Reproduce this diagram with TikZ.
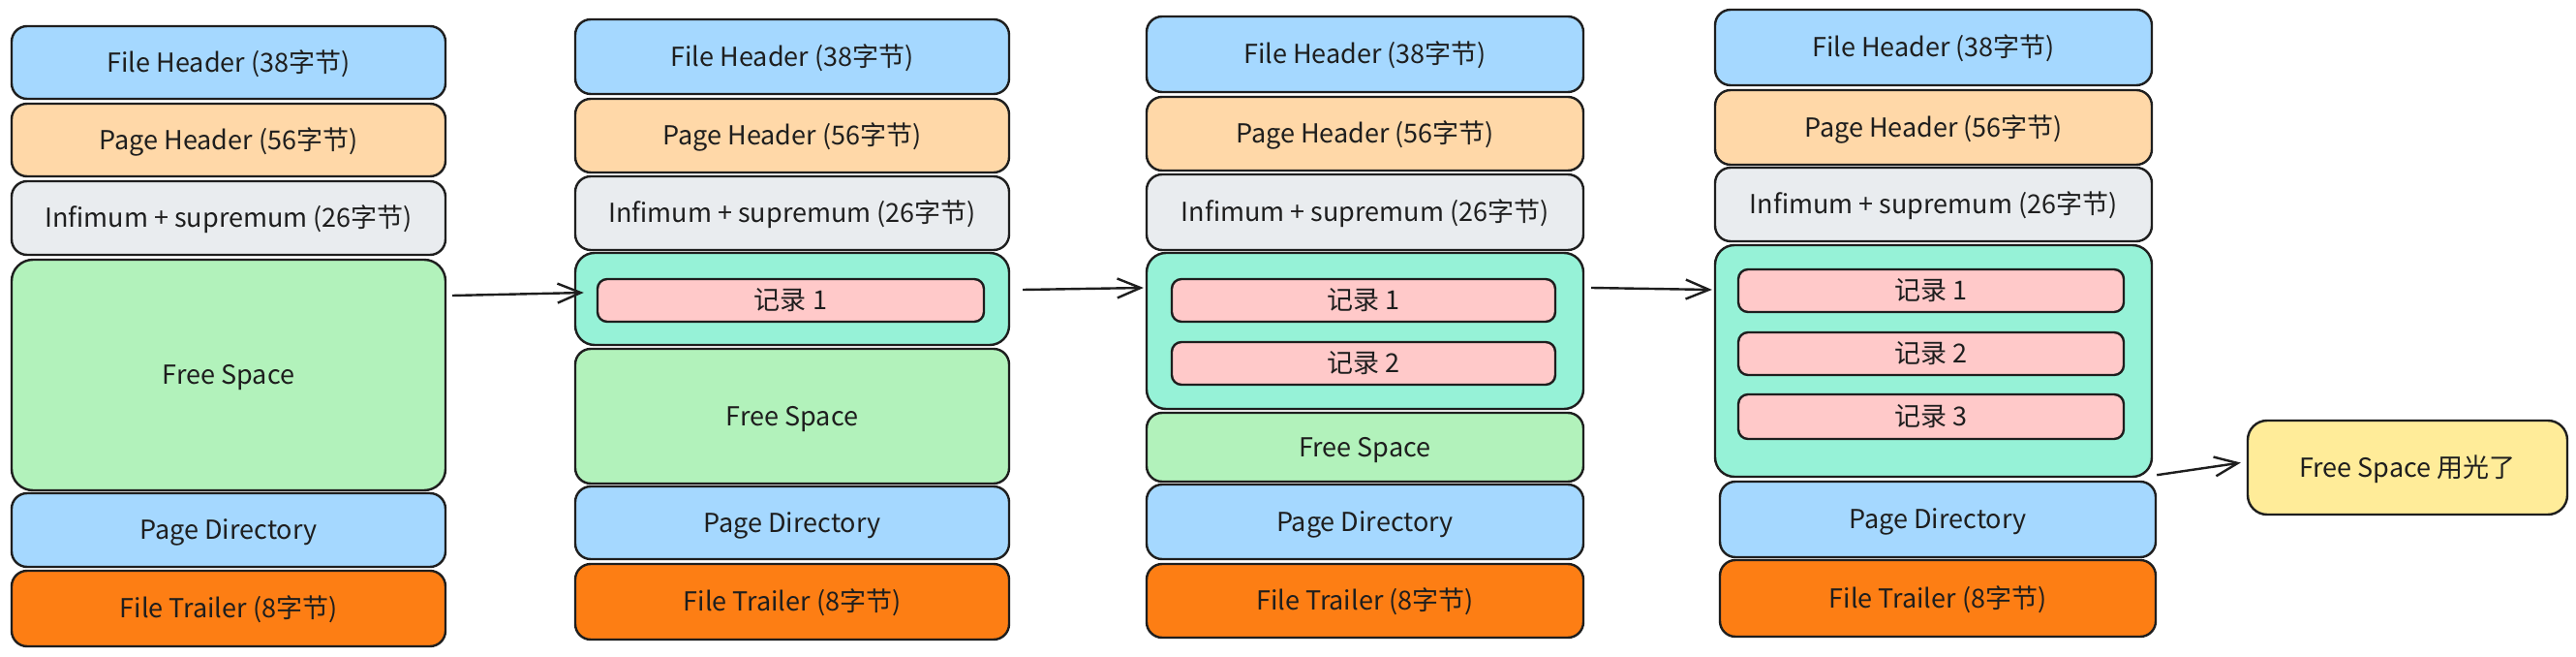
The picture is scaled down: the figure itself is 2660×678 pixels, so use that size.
\documentclass[tikz,border=0pt]{standalone}
\usepackage{fontspec}
\setmainfont{Noto Sans CJK SC}
\usetikzlibrary{calc,arrows.meta}
\definecolor{cfh}{HTML}{A5D8FF}
\definecolor{cph}{HTML}{FFD8A8}
\definecolor{cinf}{HTML}{E9ECEF}
\definecolor{cfs}{HTML}{B2F2BB}
\definecolor{ccont}{HTML}{96F2D7}
\definecolor{crec}{HTML}{FFC9C9}
\definecolor{cft}{HTML}{FD7E14}
\definecolor{cyel}{HTML}{FFEC99}
\definecolor{ink}{HTML}{1E1E1E}
% \bx{style}{name}{x1}{y1}{x2}{y2}{text}
\newcommand\bx[7]{\node[#1,minimum width={(#5-#3)*0.5pt},minimum height={(#6-#4)*0.5pt}] (#2) at ({(#3+#5)/2},{(#4+#6)/2}) {#7};}
\begin{document}
\begin{tikzpicture}[x=0.5pt,y=-0.5pt,
  blk/.style={draw=ink,line width=1.2pt,rounded corners=8pt,inner sep=0pt,text=ink,
    text height=9.8pt,text depth=0pt,font=\fontsize{13.5pt}{16pt}\selectfont},
  fhbox/.style={blk,fill=cfh},
  phbox/.style={blk,fill=cph},
  infbox/.style={blk,fill=cinf},
  fsbox/.style={blk,fill=cfs},
  bigfsbox/.style={blk,fill=cfs,rounded corners=11pt},
  pdbox/.style={blk,fill=cfh},
  ftbox/.style={blk,fill=cft},
  contbox/.style={blk,fill=ccont,rounded corners=10pt},
  recbox/.style={blk,fill=crec,rounded corners=5pt},
  notebox/.style={blk,fill=cyel,rounded corners=10pt},
  arr/.style={draw=ink,line width=1.2pt,-{Straight Barb[length=12pt,width=10pt]}}]
\fill[white] (0,0) rectangle (2660,678);
\useasboundingbox (0,0) rectangle (2660,678);

% column 1
\bx{fhbox}{c1fh}{12}{27}{460}{102}{File Header (38字节)}
\bx{phbox}{c1ph}{12}{107}{460}{182}{Page Header (56字节)}
\bx{infbox}{c1inf}{12}{187}{460}{263}{Infimum + supremum (26字节)}
\bx{bigfsbox}{c1fs}{12}{268}{460}{506}{Free Space}
\bx{pdbox}{c1pd}{12}{509}{460}{585}{Page Directory}
\bx{ftbox}{c1ft}{12}{589}{460}{667}{File Trailer (8字节)}

% column 2
\bx{fhbox}{c2fh}{594}{20}{1042}{97}{File Header (38字节)}
\bx{phbox}{c2ph}{594}{102}{1042}{178}{Page Header (56字节)}
\bx{infbox}{c2inf}{594}{182}{1042}{258}{Infimum + supremum (26字节)}
\bx{contbox}{c2cont}{594}{261}{1042}{356}{}
\bx{recbox}{c2r1}{617}{288}{1016}{332}{记录 1}
\bx{fsbox}{c2fs}{594}{360}{1042}{499}{Free Space}
\bx{pdbox}{c2pd}{594}{502}{1042}{577}{Page Directory}
\bx{ftbox}{c2ft}{594}{582}{1042}{660}{File Trailer (8字节)}

% column 3
\bx{fhbox}{c3fh}{1184}{17}{1635}{95}{File Header (38字节)}
\bx{phbox}{c3ph}{1184}{100}{1635}{176}{Page Header (56字节)}
\bx{infbox}{c3inf}{1184}{180}{1635}{258}{Infimum + supremum (26字节)}
\bx{contbox}{c3cont}{1184}{261}{1635}{422}{}
\bx{recbox}{c3r1}{1210}{288}{1606}{332}{记录 1}
\bx{recbox}{c3r2}{1210}{353}{1606}{397}{记录 2}
\bx{fsbox}{c3fs}{1184}{426}{1635}{497}{Free Space}
\bx{pdbox}{c3pd}{1184}{500}{1635}{577}{Page Directory}
\bx{ftbox}{c3ft}{1184}{582}{1635}{658}{File Trailer (8字节)}

% column 4
\bx{fhbox}{c4fh}{1771}{10}{2222}{88}{File Header (38字节)}
\bx{phbox}{c4ph}{1771}{93}{2222}{170}{Page Header (56字节)}
\bx{infbox}{c4inf}{1771}{173}{2222}{249}{Infimum + supremum (26字节)}
\bx{contbox}{c4cont}{1771}{253}{2222}{492}{}
\bx{recbox}{c4r1}{1795}{278}{2193}{322}{记录 1}
\bx{recbox}{c4r2}{1795}{343}{2193}{387}{记录 2}
\bx{recbox}{c4r3}{1795}{407}{2193}{453}{记录 3}
\bx{pdbox}{c4pd}{1776}{497}{2226}{575}{Page Directory}
\bx{ftbox}{c4ft}{1776}{578}{2226}{657}{File Trailer (8字节)}

% note
\bx{notebox}{note}{2321}{434}{2651}{531}{Free Space 用光了}

% arrows
\draw[arr] ($(c1fs.east |- c2r1.center)+(6,-5)$) -- ($(c2cont.west |- c2r1.center)+(10,-8)$);
\draw[arr] ($(c2cont.east |- c3r1.center)+(13,-11)$) -- ($(c3cont.west |- c3r1.center)+(-2,-13)$);
\draw[arr] ($(c3cont.east |- c4r1.center)+(7,-3)$) -- ($(c4cont.west |- c4r1.center)+(-2,-1)$);
\draw[arr] ($(c4cont.south east)+(4,-3)$) -- ($(note.west)+(-6,-5)$);
\end{tikzpicture}
\end{document}
